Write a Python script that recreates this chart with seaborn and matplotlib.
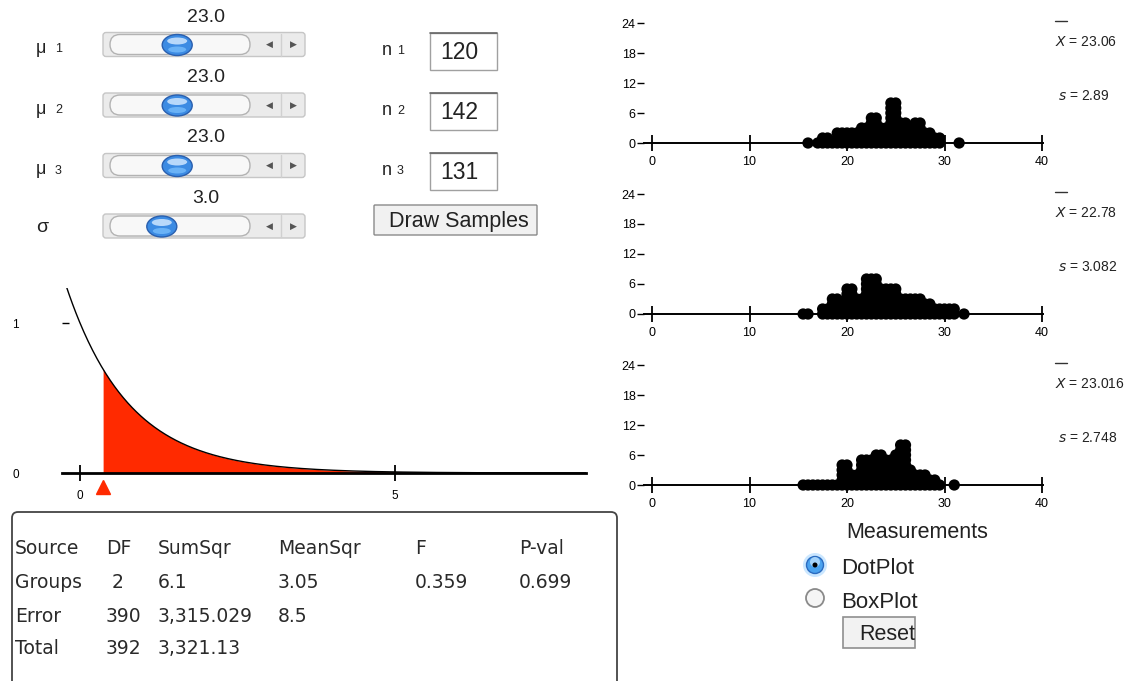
import math
import numpy as np
import pandas as pd
import matplotlib
matplotlib.use("Agg")
import matplotlib.pyplot as plt
import seaborn as sns
from matplotlib.patches import FancyBboxPatch, Ellipse, Rectangle, Circle
from matplotlib.lines import Line2D

# ==============================
# data
# ==============================
slider_names = ["μ", "μ", "μ", "σ"]
slider_subs = ["1", "2", "3", ""]
slider_values = [23.0, 23.0, 23.0, 3.0]
sample_sizes = [120, 142, 131]

anova_header = ["Source", "DF", "SumSqr", "MeanSqr", "F", "P-val"]
anova_rows = [
    ["Groups", " 2", "6.1", "3.05", "0.359", "0.699"],
    ["Error", "390", "3,315.029", "8.5", "", ""],
    ["Total", "392", "3,321.13", "", "", ""],
]
df_groups = 2
df_error = 390
f_stat = 0.359

group_means = ["23.06", "22.78", "23.016"]
group_sds = ["2.89", "3.082", "2.748"]

# stacked dot plots: measurement value -> number of stacked dots
g1_vals = [16.0, 17.0, 17.5, 18.0, 18.5, 19.0, 19.5, 20.0, 20.5, 21.0, 21.5, 22.0,
           22.5, 23.0, 23.5, 24.0, 24.5, 25.0, 25.5, 26.0, 26.5, 27.0, 27.5, 28.0,
           28.5, 29.0, 29.5, 31.5]
g1_counts = [1, 1, 2, 2, 1, 3, 3, 3, 3, 3, 4, 4,
             6, 6, 4, 4, 9, 9, 5, 5, 4, 5, 5, 3,
             3, 2, 2, 1]

g2_vals = [15.5, 16.0, 17.5, 18.0, 18.5, 19.0, 19.5, 20.0, 20.5, 21.0, 21.5, 22.0,
           22.5, 23.0, 23.5, 24.0, 24.5, 25.0, 25.5, 26.0, 26.5, 27.0, 27.5, 28.0,
           28.5, 29.0, 29.5, 30.0, 30.5, 31.0, 32.0]
g2_counts = [1, 1, 2, 2, 4, 4, 2, 6, 6, 4, 4, 8,
             8, 8, 6, 6, 6, 6, 4, 4, 4, 4, 4, 3,
             3, 2, 2, 2, 2, 2, 1]

g3_vals = [15.5, 16.0, 16.5, 17.0, 17.5, 18.0, 18.5, 19.0, 19.5, 20.0, 20.5, 21.0,
           21.5, 22.0, 22.5, 23.0, 23.5, 24.0, 24.5, 25.0, 25.5, 26.0, 26.5, 27.0,
           27.5, 28.0, 28.5, 29.0, 29.5, 31.0]
g3_counts = [1, 1, 1, 1, 1, 1, 1, 1, 5, 5, 3, 3,
             6, 6, 6, 7, 7, 6, 6, 7, 9, 9, 4, 3,
             3, 3, 2, 2, 1, 1]

# ==============================
# figure + helpers (pixel layout)
# ==============================
sns.set_style("white")
plt.rcParams["font.family"] = ["Liberation Sans", "DejaVu Sans"]

W, H = 1132, 681
fig = plt.figure(figsize=(W / 100, H / 100), dpi=100)


def rect(x0, y0, x1, y1):
    return [x0 / W, 1 - y1 / H, (x1 - x0) / W, (y1 - y0) / H]


ui = fig.add_axes([0, 0, 1, 1])
ui.set_xlim(0, W)
ui.set_ylim(H, 0)
ui.axis("off")

TXT = "#222222"

# ==============================
# sliders
# ==============================
slider_cy = [44.5, 105, 165.5, 226]
knob_frac = [0.48, 0.48, 0.48, 0.37]
for name, sub, val, cy, fr in zip(slider_names, slider_subs, slider_values, slider_cy, knob_frac):
    ui.add_patch(FancyBboxPatch((103, cy - 12), 202, 24, boxstyle="round,pad=0,rounding_size=3",
                                fc="#ebebeb", ec="#c6c6c6", lw=1))
    ui.add_patch(FancyBboxPatch((110, cy - 10), 140, 20, boxstyle="round,pad=0,rounding_size=10",
                                fc="#f8f8f8", ec="#b3b3b3", lw=1))
    ui.plot([281, 281], [cy - 11, cy + 11], color="#d0d0d0", lw=1)
    ui.text(269, cy, "◀", fontsize=6.5, color="#555555", ha="center", va="center")
    ui.text(293, cy, "▶", fontsize=6.5, color="#555555", ha="center", va="center")
    kx = 110 + fr * 140
    ui.add_patch(Ellipse((kx, cy + 0.5), 30, 21, fc="#3c8be3", ec="#2a5fae", lw=1))
    ui.add_patch(Ellipse((kx, cy - 3.5), 20, 7, fc="#cfe6ff", ec="none", alpha=0.85))
    ui.add_patch(Ellipse((kx, cy + 5), 18, 6, fc="#7fc4ff", ec="none", alpha=0.7))
    ui.text(206, cy - 27.5, f"{val:.1f}", fontsize=14, color=TXT, ha="center", va="center")
    if sub:
        ui.text(36, cy + 4, name, fontsize=13, color=TXT, ha="left", va="center")
        ui.text(55, cy + 5, sub, fontsize=9, color=TXT, ha="left", va="center")
    else:
        ui.text(36, cy + 1, name, fontsize=14, color=TXT, ha="left", va="center")

# sample size boxes
box_cy = [51.5, 111.5, 171.5]
for i, (n, cy) in enumerate(zip(sample_sizes, box_cy)):
    ui.text(382, cy - 1, "n", fontsize=13, color=TXT, ha="left", va="center")
    ui.text(397, cy, str(i + 1), fontsize=9, color=TXT, ha="left", va="center")
    ui.add_patch(Rectangle((430, cy - 18.5), 67, 37, fc="white", ec="#a0a0a0", lw=1))
    ui.plot([430, 497], [cy - 18.5, cy - 18.5], color="#666666", lw=1.2)
    ui.text(440, cy + 1, str(n), fontsize=16.5, color=TXT, ha="left", va="center")

btn = FancyBboxPatch((374, 205), 163, 30, boxstyle="round,pad=0,rounding_size=1",
                     fc="#f1f1f1", ec="#8a8a8a", lw=1)
ui.add_patch(btn)
t = ui.text(389, 222, "Draw Samples", fontsize=15.5, color=TXT, ha="left", va="center")
t.set_clip_path(btn)

# ==============================
# F distribution with observed F shaded
# ==============================
def f_pdf(x, d1, d2):
    logc = (math.lgamma((d1 + d2) / 2) - math.lgamma(d1 / 2) - math.lgamma(d2 / 2)
            + (d1 / 2) * math.log(d1 / d2))
    return np.exp(logc) * np.power(x, d1 / 2 - 1) * np.power(1 + d1 * x / d2, -(d1 + d2) / 2)


axf = fig.add_axes(rect(62, 288, 586, 473))
axf.patch.set_alpha(0)
x_lo, x_hi = (62 - 80) / 63, (586 - 80) / 63
xs = np.linspace(x_lo, x_hi, 600)
dens = f_pdf(xs, df_groups, df_error)
mask = xs >= f_stat
axf.fill_between(xs[mask], 0, dens[mask], color="#ff2a00", lw=0, zorder=2)
sns.lineplot(x=xs, y=dens, color="black", lw=1, ax=axf, zorder=3)
axf.plot([f_stat], [-0.093], marker="^", ms=10, color="#ff2a00", clip_on=False, zorder=4)
axf.set_xlim(x_lo, x_hi)
axf.set_ylim(0, 185 / 150)
for s in ["top", "right", "left"]:
    axf.spines[s].set_visible(False)
axf.spines["bottom"].set_linewidth(2)
axf.spines["bottom"].set_color("black")
axf.set_xticks([0, 5])
axf.set_yticks([0, 1])
axf.tick_params(axis="x", direction="inout", length=12, width=1.3, labelsize=8.5, pad=6,
                colors="black", bottom=True)
axf.tick_params(axis="y", direction="in", length=5, width=1, labelsize=8.5, pad=31,
                colors="black", left=True)
axf.set_xlabel("")
axf.set_ylabel("")

# ==============================
# ANOVA table
# ==============================
ui.add_patch(FancyBboxPatch((12, 512), 605, 220, boxstyle="round,pad=0,rounding_size=6",
                            fc="white", ec="#444444", lw=1.3))
col_x = [15, 106, 158, 278, 415, 519]
row_y = [548, 582, 616, 649]
for cx, txt in zip(col_x, anova_header):
    ui.text(cx, row_y[0], txt, fontsize=13.5, color="#2a2a2a", ha="left", va="center",
            family="DejaVu Sans")
for ry, row in zip(row_y[1:], anova_rows):
    for cx, txt in zip(col_x, row):
        ui.text(cx, ry, txt, fontsize=13.5, color="#2a2a2a", ha="left", va="center",
                family="DejaVu Sans")

# ==============================
# dot plots of the three samples
# ==============================
groups = [(g1_vals, g1_counts), (g2_vals, g2_counts), (g3_vals, g3_counts)]
baselines = [143, 314, 485]
for (vals, counts), b, xb, sd in zip(groups, baselines, group_means, group_sds):
    pts = pd.DataFrame([(v, k) for v, c in zip(vals, counts) for k in range(c)],
                       columns=["value", "level"])
    ax = fig.add_axes(rect(644, b - 125, 1043, b))
    ax.patch.set_alpha(0)
    sns.scatterplot(data=pts, x="value", y="level", color="black", s=66, edgecolor="none",
                    ax=ax, clip_on=False, legend=False, zorder=4)
    ax.set_xlim((644 - 652) / 9.75, (1043 - 652) / 9.75)
    ax.set_ylim(0, 25)
    for s in ["top", "right", "left"]:
        ax.spines[s].set_visible(False)
    ax.spines["bottom"].set_linewidth(1.4)
    ax.spines["bottom"].set_color("black")
    ax.set_xticks([0, 10, 20, 30, 40])
    ax.set_yticks([0, 6, 12, 18, 24])
    ax.tick_params(axis="x", direction="inout", length=11, width=1.3, labelsize=9, pad=4,
                   colors="black", bottom=True)
    ax.tick_params(axis="y", direction="out", length=5, width=1, labelsize=9, pad=1,
                   colors="black", left=True)
    ax.set_xlabel("")
    ax.set_ylabel("")

    ui.add_line(Line2D([1055, 1067], [b - 122, b - 122], color="#333333", lw=1))
    ui.text(1055, b - 101, r"$X$ = " + xb, fontsize=10, color=TXT, ha="left", va="center")
    ui.text(1058, b - 47, r"$s$ = " + sd, fontsize=10, color=TXT, ha="left", va="center")

# ==============================
# controls under the dot plots
# ==============================
ui.text(917, 533, "Measurements", fontsize=15.5, color=TXT, ha="center", va="center")

ui.add_patch(Circle((815, 565), 12, fc="#a9d8ff", ec="none", alpha=0.6))
ui.add_patch(Circle((815, 565), 8.5, fc="#4aa2ef", ec="#2b6bbf", lw=1))
ui.add_patch(Circle((815, 562), 5, fc="#cde9ff", ec="none", alpha=0.7))
ui.add_patch(Circle((815, 565), 2.5, fc="black", ec="none"))
ui.text(841, 569, "DotPlot", fontsize=16, color=TXT, ha="left", va="center")

ui.add_patch(Circle((815, 598), 9, fc="#f5f5f5", ec="#8a8a8a", lw=1.3))
ui.text(841, 602, "BoxPlot", fontsize=16, color=TXT, ha="left", va="center")

rbtn = Rectangle((843, 617), 72, 31, fc="#f2f2f2", ec="#8f8f8f", lw=1.2)
ui.add_patch(rbtn)
t = ui.text(859, 634, "Reset", fontsize=15.5, color=TXT, ha="left", va="center")
t.set_clip_path(Rectangle((843, 617), 67, 31, transform=ui.transData))

fig.savefig("out.png", dpi=100)
